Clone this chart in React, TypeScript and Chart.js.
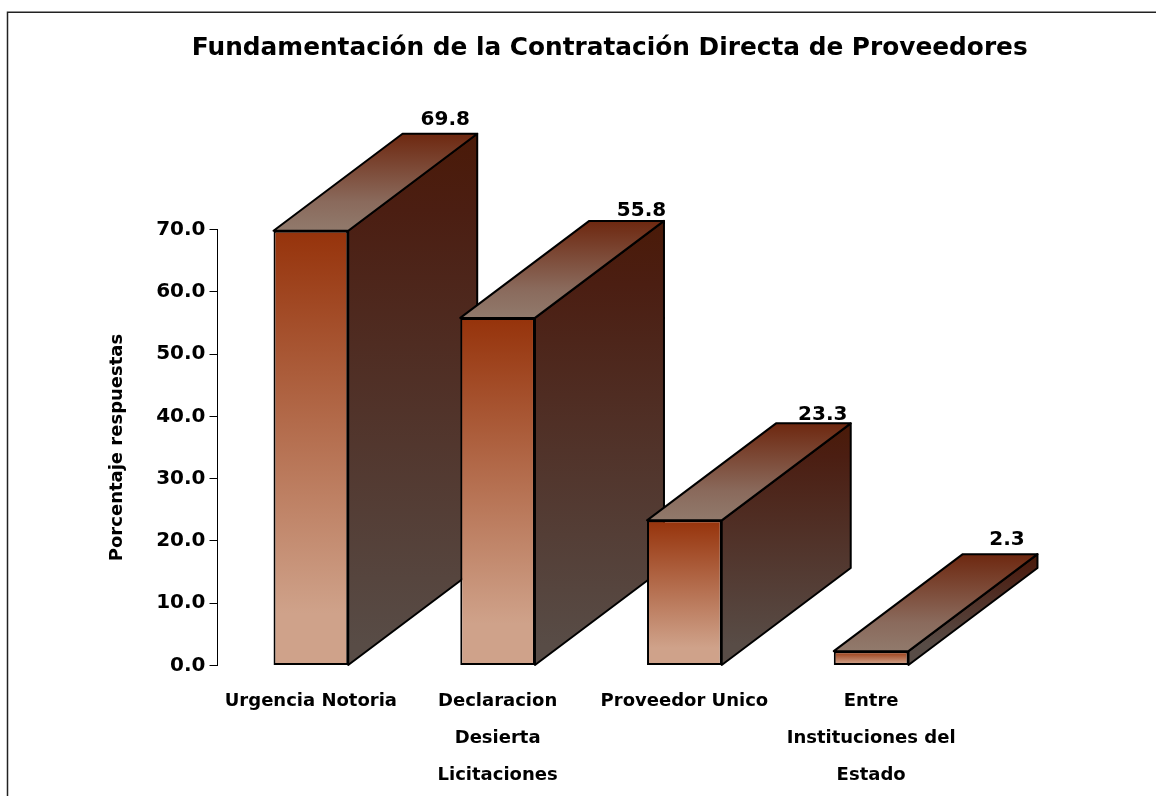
import React, { useEffect, useRef } from "react";
import { Chart, registerables } from "chart.js";

Chart.register(...registerables);

const TITLE = "Fundamentación de la Contratación Directa de Proveedores";
const Y_TITLE = "Porcentaje respuestas";
const CATEGORIES: (string | string[])[] = [
  "Urgencia Notoria",
  ["Declaracion", "Desierta", "Licitaciones"],
  "Proveedor Unico",
  ["Entre", "Instituciones del", "Estado"],
];
const VALUES = [69.8, 55.8, 23.3, 2.3];
const Y_MAX = 70;
const Y_STEP = 10;

const FONT = "'DejaVu Sans', sans-serif";
const DEPTH_X = 129;
const DEPTH_Y = 97;
const LABEL_NUDGE_X = [-3, 6.5, 1, -1.5];
const LABEL_NUDGE_Y = [-14, -10, -9, -14];

const bar3d = {
  id: "bar3d",
  beforeDraw(chart: any) {
    const c = chart.ctx;
    c.save();
    c.strokeStyle = "#222";
    c.lineWidth = 1.5;
    c.beginPath();
    c.moveTo(7.5, 796);
    c.lineTo(7.5, 12.25);
    c.lineTo(1156, 12.25);
    c.stroke();
    c.restore();
  },
  beforeDatasetsDraw(chart: any) {
    const c = chart.ctx;
    const bars = chart.getDatasetMeta(0).data;
    c.save();
    c.lineWidth = 2;
    c.strokeStyle = "#000";
    c.lineJoin = "round";
    bars.forEach((b: any) => {
      const l = b.x - b.width / 2;
      const r = b.x + b.width / 2;
      const t = b.y;
      const bot = b.base;
      const side = c.createLinearGradient(0, t - DEPTH_Y, 0, bot - 20);
      side.addColorStop(0, "#4a1a08");
      side.addColorStop(0.15, "#4b1e12");
      side.addColorStop(1, "#584c46");
      c.fillStyle = side;
      c.beginPath();
      c.moveTo(r, t);
      c.lineTo(r + DEPTH_X, t - DEPTH_Y);
      c.lineTo(r + DEPTH_X, bot - DEPTH_Y);
      c.lineTo(r, bot);
      c.closePath();
      c.fill();
      c.stroke();
      const top = c.createLinearGradient(0, t - DEPTH_Y, 0, t);
      top.addColorStop(0, "#6e2810");
      top.addColorStop(0.7, "#8a6a5c");
      top.addColorStop(1, "#917a6c");
      c.fillStyle = top;
      c.beginPath();
      c.moveTo(l, t);
      c.lineTo(l + DEPTH_X, t - DEPTH_Y);
      c.lineTo(r + DEPTH_X, t - DEPTH_Y);
      c.lineTo(r, t);
      c.closePath();
      c.fill();
      c.stroke();
    });
    c.restore();
  },
  afterDatasetsDraw(chart: any) {
    const c = chart.ctx;
    const bars = chart.getDatasetMeta(0).data;
    c.save();
    c.fillStyle = "#000";
    c.font = `bold 20px ${FONT}`;
    c.textAlign = "center";
    c.textBaseline = "middle";
    bars.forEach((b: any, i: number) => {
      c.fillText(
        VALUES[i].toFixed(1),
        b.x + b.width / 2 + DEPTH_X - 29 + LABEL_NUDGE_X[i],
        b.y - DEPTH_Y + LABEL_NUDGE_Y[i]
      );
    });
    c.restore();
  },
  afterLayout(chart: any) {
    const tb = chart.titleBlock;
    if (tb) {
      tb.left += 127.5;
      tb.right += 127.5;
    }
  },
};

export default function App() {
  const ref = useRef<HTMLCanvasElement>(null);
  useEffect(() => {
    const chart = new Chart(ref.current!, {
      type: "bar",
      data: {
        labels: CATEGORIES,
        datasets: [
          {
            label: Y_TITLE,
            data: VALUES,
            clip: false,
            barPercentage: 0.4,
            categoryPercentage: 1,
            borderColor: "#000",
            borderWidth: 2,
            borderSkipped: false,
            backgroundColor: (ctx: any) => {
              const y = ctx.chart.scales.y;
              if (!y || typeof ctx.raw !== "number") return "#96330b";
              const t = y.getPixelForValue(ctx.raw);
              const b = y.getPixelForValue(0);
              if (!isFinite(t) || !isFinite(b)) return "#96330b";
              const g = ctx.chart.ctx.createLinearGradient(0, t, 0, b);
              g.addColorStop(0, "#96330b");
              g.addColorStop(0.88, "#cfa28a");
              g.addColorStop(1, "#cfa28a");
              return g;
            },
          },
        ],
      },
      options: {
        animation: false,
        responsive: false,
        layout: { padding: { left: 0, right: 191.5, top: 0, bottom: 0 } },
        plugins: {
          legend: { display: false },
          tooltip: { enabled: false },
          title: {
            display: true,
            text: TITLE,
            color: "#000",
            font: { family: FONT, size: 24.8, weight: "bold", lineHeight: 1.2 },
            padding: { top: 34, bottom: 165.7 },
          },
        },
        scales: {
          x: {
            grid: { display: false },
            border: { display: false },
            ticks: {
              color: "#000",
              font: { family: FONT, size: 18, weight: "bold", lineHeight: "37px" },
              maxRotation: 0,
              autoSkip: false,
              padding: 9,
            },
            afterFit: (s: any) => {
              s.height = 130.5;
            },
          },
          y: {
            min: 0,
            max: Y_MAX,
            grid: { drawOnChartArea: false, color: "#000", tickLength: 8, lineWidth: 1 },
            border: { color: "#000", width: 1 },
            ticks: {
              stepSize: Y_STEP,
              color: "#000",
              padding: 4,
              font: { family: FONT, size: 20, weight: "bold" },
              callback: (v: any) => Number(v).toFixed(1),
            },
            title: {
              display: true,
              text: Y_TITLE,
              color: "#000",
              font: { family: FONT, size: 18, weight: "bold", lineHeight: 1.2 },
              padding: { top: 107, bottom: 0 },
            },
            afterFit: (s: any) => {
              s.width = 217.5;
            },
          },
        },
      },
      plugins: [bar3d],
    } as any);
    return () => chart.destroy();
  }, []);
  return (
    <canvas
      ref={ref}
      width={1156}
      height={796}
      style={{ position: "fixed", left: 0, top: 0, width: 1156, height: 796, display: "block" }}
    />
  );
}
